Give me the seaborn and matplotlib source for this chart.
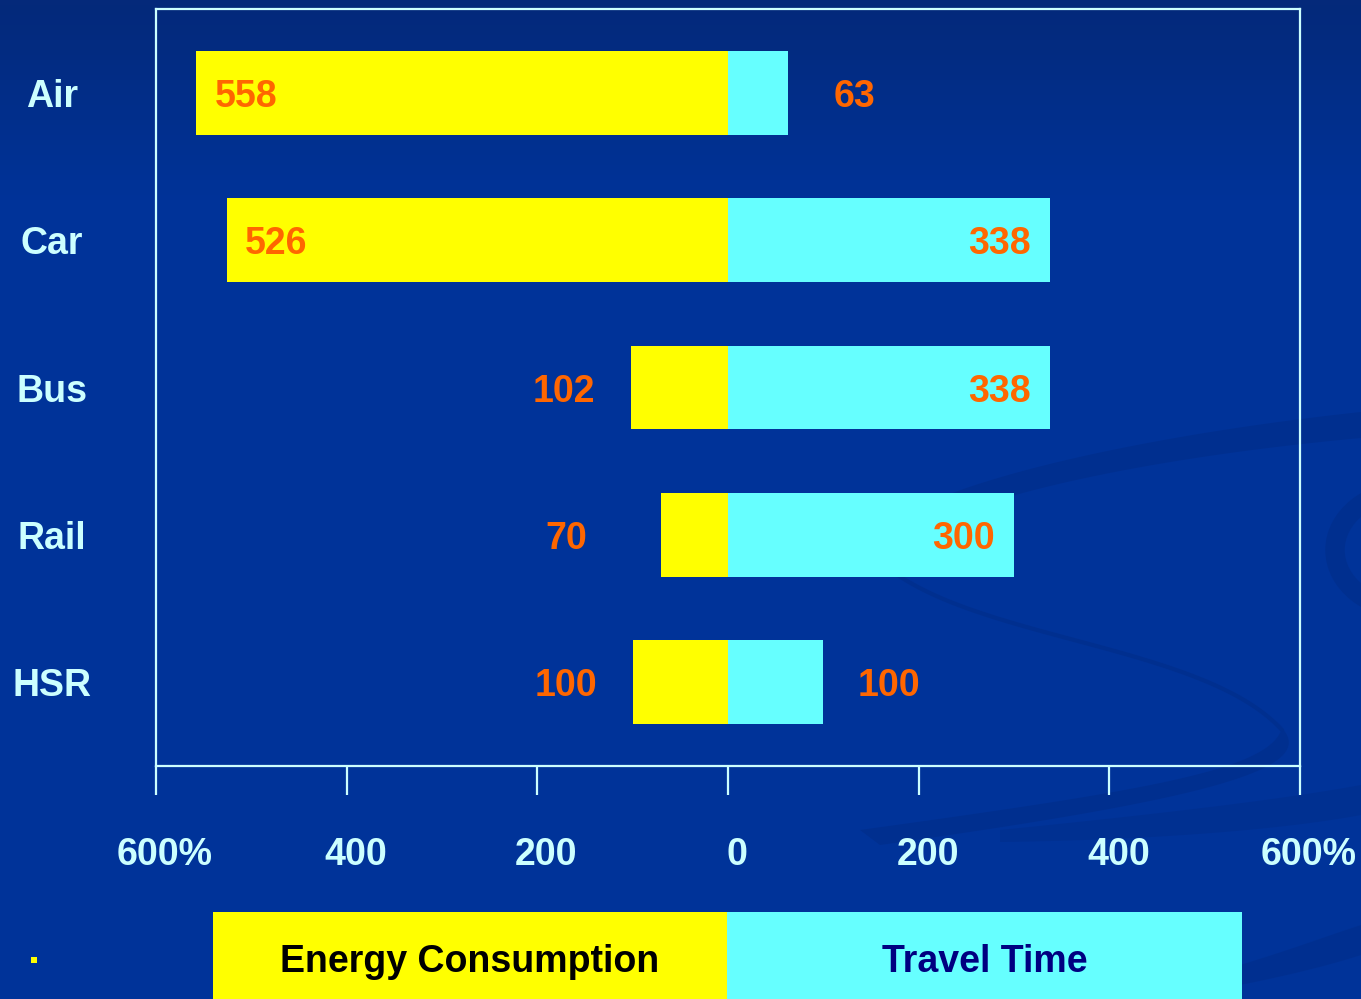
import numpy as np
import pandas as pd
import matplotlib
matplotlib.use("Agg")
import matplotlib.pyplot as plt
import seaborn as sns
from matplotlib.patches import Rectangle, Polygon, Ellipse
from matplotlib.colors import LinearSegmentedColormap
import matplotlib.transforms as mtransforms

# ---- data ----
modes = ["Air", "Car", "Bus", "Rail", "HSR"]
energy = [558, 526, 102, 70, 100]
travel = [63, 338, 338, 300, 100]
tick_values = [-600, -400, -200, 0, 200, 400, 600]
tick_labels = ["600%", "400", "200", "0", "200", "400", "600%"]
legend_labels = ["Energy Consumption", "Travel Time"]

YELLOW = "#FFFF00"
CYAN = "#66FFFF"
ORANGE = "#FF6600"
LIGHT = "#CCFFFF"
BG = "#003399"

sns.set_theme(style="white")
plt.rcParams["font.family"] = ["Liberation Sans", "DejaVu Sans"]
plt.rcParams["font.weight"] = "bold"

W, H = 1361, 999
fig = plt.figure(figsize=(W / 100, H / 100), dpi=100, facecolor=BG)

# ---- background gradient + faint swirl decoration ----
bg = fig.add_axes([0, 0, 1, 1], zorder=-10)
bg.set_xlim(0, W)
bg.set_ylim(H, 0)
bg.axis("off")
grad = np.ones((200, 1))
yy = np.linspace(0, 1, 200)
grad[:, 0] = np.clip(yy / 0.2, 0, 1)
cmap = LinearSegmentedColormap.from_list("g", ["#04297A", BG])
bg.imshow(grad, aspect="auto", cmap=cmap, extent=[0, W, H, 0], zorder=0)


def bez(p0, p1, p2, p3, n=80):
    t = np.linspace(0, 1, n)[:, None]
    p0, p1, p2, p3 = map(np.asarray, (p0, p1, p2, p3))
    return ((1 - t) ** 3) * p0 + 3 * ((1 - t) ** 2) * t * p1 + 3 * (1 - t) * t ** 2 * p2 + t ** 3 * p3


SW = "#002F8E"
# upper band sweeping left then looping down
outer = bez((1361, 412), (1100, 440), (860, 500), (872, 555))
inner = bez((905, 545), (930, 510), (1100, 462), (1361, 438))
bg.add_patch(Polygon(np.vstack([outer, inner]), closed=True, facecolor=SW, edgecolor="none", alpha=0.9, zorder=1))
# thin line heading to the lower right
thin = bez((872, 553), (950, 640), (1200, 640), (1282, 730))
bg.plot(thin[:, 0], thin[:, 1], color=SW, lw=3, alpha=0.9, zorder=1)
# lower band returning to the left
lo1 = bez((1282, 728), (1320, 770), (1200, 800), (880, 845))
lo2 = bez((860, 830), (1150, 790), (1270, 770), (1282, 728))
bg.add_patch(Polygon(np.vstack([lo1, lo2]), closed=True, facecolor=SW, edgecolor="none", alpha=0.9, zorder=1))
# right-edge ellipse
bg.add_patch(Ellipse((1410, 550), 150, 120, facecolor="none", edgecolor=SW, lw=14, alpha=0.9, zorder=1))
# bottom-right bands
b1 = bez((1000, 830), (1150, 815), (1280, 800), (1361, 785))
b2 = bez((1361, 815), (1280, 830), (1150, 840), (1000, 842))
bg.add_patch(Polygon(np.vstack([b1, b2]), closed=True, facecolor=SW, edgecolor="none", alpha=0.7, zorder=1))
b3 = bez((1240, 965), (1290, 950), (1330, 935), (1361, 925))
b4 = bez((1361, 955), (1330, 965), (1290, 975), (1240, 985))
bg.add_patch(Polygon(np.vstack([b3, b4]), closed=True, facecolor=SW, edgecolor="none", alpha=0.8, zorder=1))

# ---- main axes ----
L, R, T, B = 156, 1300, 9, 766
ax = fig.add_axes([L / W, 1 - B / H, (R - L) / W, (B - T) / H])
ax.set_facecolor("none")

df = pd.DataFrame({"mode": modes, "energy": energy, "travel": travel})
df["energy_neg"] = -df["energy"]
sns.barplot(data=df, x="energy_neg", y="mode", color=YELLOW, saturation=1,
            width=0.57, orient="h", ax=ax, linewidth=0, zorder=3)
sns.barplot(data=df, x="travel", y="mode", color=CYAN, saturation=1,
            width=0.57, orient="h", ax=ax, linewidth=0, zorder=3)

ax.set_xlim(-600, 600)
ax.set_ylim(4.57, -0.57)
ax.set_xlabel("")
ax.set_ylabel("")

for s in ax.spines.values():
    s.set_color(LIGHT)
    s.set_linewidth(1.6)
    s.set_visible(True)

ax.set_xticks(tick_values)
ax.set_xticklabels(tick_labels)
ax.tick_params(axis="x", direction="out", length=21, width=1.6, color=LIGHT,
               labelcolor=LIGHT, labelsize=27, pad=30, bottom=True)
offset = mtransforms.ScaledTranslation(9 / 100, 0, fig.dpi_scale_trans)
for lab in ax.get_xticklabels():
    lab.set_fontweight("bold")
    lab.set_transform(lab.get_transform() + offset)

ax.set_yticks(range(len(modes)))
ax.set_yticklabels(modes)
ax.tick_params(axis="y", length=0, labelcolor=LIGHT, labelsize=27, pad=75, left=False)
for lab in ax.get_yticklabels():
    lab.set_fontweight("bold")
    lab.set_horizontalalignment("center")
    lab.set_verticalalignment("center_baseline")

# ---- value labels ----
px = 1200 / (R - L)  # data units per pixel
for i, (e, tv) in enumerate(zip(energy, travel)):
    if e >= 200:
        xe = -e + 50 * px
    else:
        xe = min(-e, -100) - 70
    ax.text(xe, i, str(e), color=ORANGE, fontsize=27, fontweight="bold",
            ha="center", va="center_baseline", zorder=5)
    if tv >= 200:
        xt = tv - 51 * px
    else:
        xt = tv + 66 * px
    ax.text(xt, i, str(tv), color=ORANGE, fontsize=27, fontweight="bold",
            ha="center", va="center_baseline", zorder=5)

# ---- legend boxes at the bottom ----
lx0, lmid, lx1, ly0 = 213, 727, 1242, 912
bg.add_patch(Rectangle((lx0, ly0), lmid - lx0, H - ly0, facecolor=YELLOW, edgecolor="none", zorder=5))
bg.add_patch(Rectangle((lmid, ly0), lx1 - lmid, H - ly0, facecolor=CYAN, edgecolor="none", zorder=5))
bg.text((lx0 + lmid) / 2, 958, legend_labels[0], color="black", fontsize=27,
        fontweight="bold", ha="center", va="center_baseline", zorder=6)
bg.text((lmid + lx1) / 2, 958, legend_labels[1], color="#000080", fontsize=27,
        fontweight="bold", ha="center", va="center_baseline", zorder=6)
bg.add_patch(Rectangle((31, 957), 6, 6, facecolor=YELLOW, edgecolor="none", zorder=6))

fig.savefig("out.png", dpi=100, facecolor=BG)
